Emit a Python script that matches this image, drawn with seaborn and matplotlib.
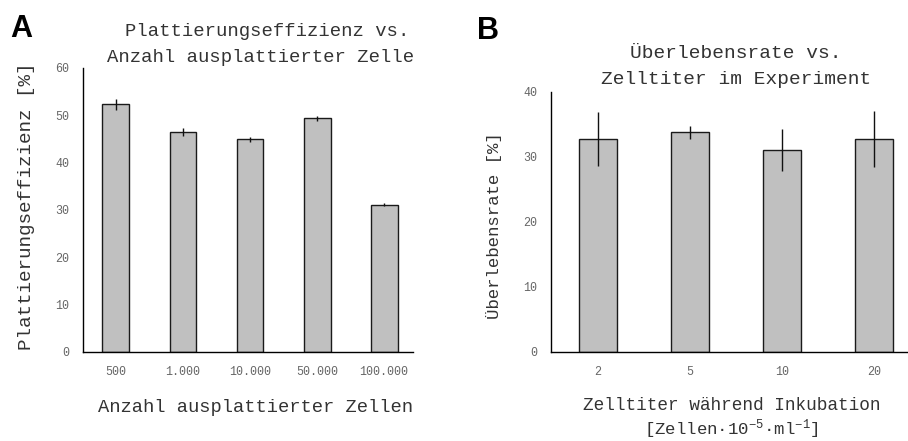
import matplotlib
matplotlib.use("Agg")
import matplotlib.pyplot as plt
import seaborn as sns
import pandas as pd

# ---- data ----
cats_a = ["500", "1.000", "10.000", "50.000", "100.000"]
vals_a = [52.3, 46.5, 44.9, 49.4, 31.1]
errs_a = [1.2, 0.9, 0.6, 0.5, 0.3]

cats_b = ["2", "5", "10", "20"]
vals_b = [32.7, 33.8, 31.0, 32.7]
errs_b = [4.1, 1.0, 3.2, 4.3]

yticks_a = [0, 10, 20, 30, 40, 50, 60]
yticks_b = [0, 10, 20, 30, 40]

sns.set_style("white")
plt.rcParams["font.family"] = ["Liberation Mono", "DejaVu Sans Mono"]
plt.rcParams["mathtext.default"] = "regular"

W, H = 908, 441
fig = plt.figure(figsize=(W / 100, H / 100), dpi=100)

def fx(px):
    return px / W

def fy(py):
    return 1 - py / H

TICK_C = "#666666"
LAB_C = "#333333"
BAR_C = "#c0c0c0"

def draw(ax, cats, vals, errs, yticks, xlim, width):
    df = pd.DataFrame({"cat": cats, "val": vals})
    sns.barplot(data=df, x="cat", y="val", order=cats, color=BAR_C,
                width=width, edgecolor="#1a1a1a", linewidth=1.0,
                saturation=1, errorbar=None, ax=ax)
    ax.errorbar(range(len(cats)), vals, yerr=errs, fmt="none",
                ecolor="#111111", elinewidth=1.0, capsize=0, zorder=5)
    ax.set_xlim(*xlim)
    ax.set_ylim(yticks[0], yticks[-1])
    ax.set_yticks(yticks)
    ax.set_xlabel("")
    ax.set_ylabel("")
    for s in ["top", "right"]:
        ax.spines[s].set_visible(False)
    for s in ["left", "bottom"]:
        ax.spines[s].set_color("black")
        ax.spines[s].set_linewidth(1.0)
    ax.tick_params(axis="y", direction="in", length=3, width=0.8,
                   color="black", labelsize=8.4, labelcolor=TICK_C, pad=10)
    ax.tick_params(axis="x", length=0, labelsize=8.4, labelcolor=TICK_C, pad=10)

# Panel A
ax_a = fig.add_axes([fx(83), fy(352), fx(413 - 83), (352 - 68) / H])
draw(ax_a, cats_a, vals_a, errs_a, yticks_a, (-0.49, 4.43), 0.4)

# Panel B
ax_b = fig.add_axes([fx(551), fy(351.7), fx(908 - 551), (351.7 - 91.7) / H])
draw(ax_b, cats_b, vals_b, errs_b, yticks_b, (-0.51, 3.37), 0.41)

# Titles
fig.text(fx(267), fy(32), "Plattierungseffizienz vs.", ha="center", va="center",
         fontsize=13.6, color=LAB_C)
fig.text(fx(260.5), fy(57), "Anzahl ausplattierter Zelle", ha="center", va="center",
         fontsize=13.6, color=LAB_C)
fig.text(fx(736), fy(53), "Überlebensrate vs.", ha="center", va="center",
         fontsize=14, color=LAB_C)
fig.text(fx(736), fy(80), "Zelltiter im Experiment", ha="center", va="center",
         fontsize=14, color=LAB_C)

# Axis labels
fig.text(fx(27), fy(206), "Plattierungseffizienz [%]", rotation=90,
         ha="center", va="center", fontsize=13.9, color=LAB_C)
fig.text(fx(255.5), fy(407), "Anzahl ausplattierter Zellen", ha="center",
         va="center", fontsize=13.5, color=LAB_C)
fig.text(fx(494), fy(226), "Überlebensrate [%]", rotation=90,
         ha="center", va="center", fontsize=12.5, color=LAB_C)
fig.text(fx(732), fy(405), "Zelltiter während Inkubation", ha="center",
         va="center", fontsize=12.8, color=LAB_C)
fig.text(fx(731), fy(429), "[Zellen·10$^{-5}$·ml$^{-1}$]", ha="center",
         va="center", fontsize=12.5, color=LAB_C)

# Panel letters
fig.text(fx(10), fy(14), "A", ha="left", va="top", fontsize=22,
         fontweight="bold", family="Liberation Sans", color="black")
fig.text(fx(477), fy(16), "B", ha="left", va="top", fontsize=22,
         fontweight="bold", family="Liberation Sans", color="black")

fig.savefig("out.png", dpi=100)
